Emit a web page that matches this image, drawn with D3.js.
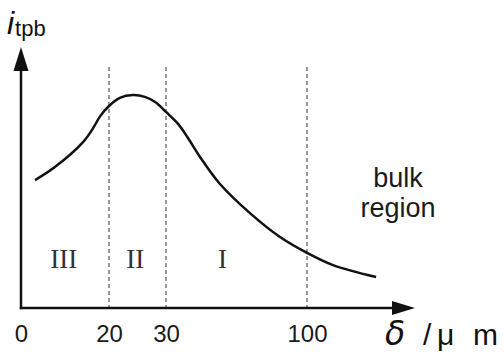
<!DOCTYPE html>
<html><head><meta charset="utf-8">
<script src="https://cdn.jsdelivr.net/npm/d3@7"></script>
<style>body{margin:0;background:#fff}svg{display:block}</style>
</head><body>
<script>
const tickValues = [0, 20, 30, 100];
const boundaries = [20, 30, 100];
const curveX = [3.2, 7.7, 14.1, 16.4, 18.0, 20, 21.9, 24.2, 26.3, 28.1, 30, 36.0, 40.9, 46.9, 56.8, 71.7, 86.6, 100, 112.9, 134.3];
const curveY = [4.92, 5.42, 6.38, 6.92, 7.38, 7.77, 8.08, 8.19, 8.12, 7.92, 7.54, 7.08, 6.54, 5.81, 4.77, 3.65, 2.73, 2.12, 1.65, 1.19];
const regions = [{label: "III", x: 9.7}, {label: "II", x: 24.6}, {label: "I", x: 58}];
const regionY = 1.54;

const W = 504, H = 358;
const svg = d3.select("body").append("svg").attr("width", W).attr("height", H);

const x = d3.scaleLinear().domain([0, 20, 30, 100, 140]).range([21, 109, 166, 307, 387.6]);
const y = d3.scaleLinear().domain([0, 10]).range([308, 48]);
const x0 = x(0), y0 = y(0);

// dashed boundaries
svg.selectAll(".bnd").data(boundaries).enter().append("line")
  .attr("x1", d => x(d)).attr("x2", d => x(d))
  .attr("y1", 67).attr("y2", y0)
  .attr("stroke", "#333").attr("stroke-width", 1).attr("stroke-dasharray", "4,3");

// axes lines
svg.append("line").attr("x1", x0).attr("x2", x0).attr("y1", y0 + 1.2).attr("y2", 66)
  .attr("stroke", "#111").attr("stroke-width", 2.5);
svg.append("line").attr("x1", x0 - 1.2).attr("x2", 395).attr("y1", y0).attr("y2", y0)
  .attr("stroke", "#111").attr("stroke-width", 2.5);
// arrowheads
svg.append("path").attr("d", `M${x0},47 L${x0 - 7.5},71 L${x0 + 7.5},71 Z`).attr("fill", "#111");
svg.append("path").attr("d", `M415,${y0} L392,${y0 - 7} L392,${y0 + 7} Z`).attr("fill", "#111");

// tick labels via axis
const axis = d3.axisBottom(x).tickValues(tickValues).tickSize(0).tickPadding(0).tickFormat(d3.format("d"));
const g = svg.append("g").attr("transform", `translate(0,${y0})`).call(axis);
g.select(".domain").remove();
g.selectAll("text").attr("font-family", "Liberation Sans, Arial, sans-serif")
  .attr("font-size", 24).attr("fill", "#1a1a1a").attr("dy", null).attr("y", 34);

// curve
const pts = curveX.map((d, i) => [d, curveY[i]]);
svg.append("path").datum(pts)
  .attr("d", d3.line().x(d => x(d[0])).y(d => y(d[1])).curve(d3.curveCatmullRom.alpha(0.5)))
  .attr("fill", "none").attr("stroke", "#111").attr("stroke-width", 2.5);

// region labels
svg.selectAll(".reg").data(regions).enter().append("text")
  .attr("x", d => x(d.x)).attr("y", y(regionY)).attr("text-anchor", "middle")
  .attr("font-family", "Liberation Serif, Times New Roman, serif").attr("font-size", 27)
  .attr("fill", "#333").text(d => d.label);

// bulk region
const br = svg.append("text").attr("font-family", "Liberation Sans, Arial, sans-serif")
  .attr("font-size", 27).attr("fill", "#1a1a1a").attr("text-anchor", "middle");
br.append("tspan").attr("x", 398).attr("y", 187).text("bulk");
br.append("tspan").attr("x", 398).attr("y", 217).text("region");

// y label
const yl = svg.append("text").attr("x", 7).attr("y", 34).attr("fill", "#111");
yl.append("tspan").attr("font-family", "Liberation Sans, Arial, sans-serif").attr("font-style", "italic").attr("font-size", 32).text("i");
yl.append("tspan").attr("font-family", "Liberation Sans, Arial, sans-serif").attr("font-size", 22).attr("dy", 2).attr("dx", 1).text("tpb");

// x label
const xl = svg.append("text").attr("y", 345).attr("fill", "#111")
  .attr("font-family", "Liberation Sans, Arial, sans-serif").attr("font-size", 30);
xl.append("tspan").attr("x", 385).attr("font-family", "DejaVu Sans, sans-serif").attr("font-style", "italic").attr("font-size", 33).text("δ");
xl.append("tspan").attr("x", 423).text("/");
xl.append("tspan").attr("x", 437).text("μ");
xl.append("tspan").attr("x", 473).text("m");
</script>
</body></html>
